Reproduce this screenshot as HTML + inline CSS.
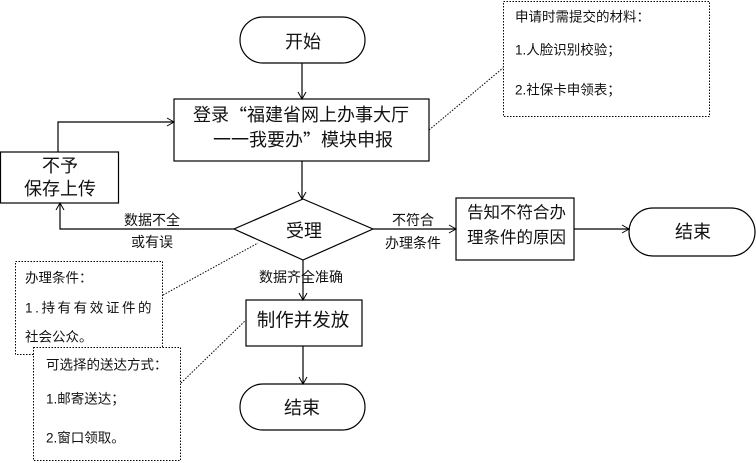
<!DOCTYPE html>
<html>
<head>
<meta charset="utf-8">
<style>
html,body{margin:0;padding:0;background:#fff;}
svg{display:block;}
text{font-family:"Liberation Sans","Noto Sans CJK SC",sans-serif;fill:#111;}
.q{font-family:"Noto Sans CJK SC","Liberation Sans",sans-serif;}
</style>
</head>
<body>
<svg width="756" height="463" viewBox="0 0 756 463" xmlns="http://www.w3.org/2000/svg">
<defs>
<marker id="a" markerWidth="10" markerHeight="10" refX="8" refY="5" orient="auto" markerUnits="userSpaceOnUse">
<path d="M1,1 L8,5 L1,9" fill="none" stroke="#000" stroke-width="1"/>
</marker>
</defs>
<g fill="none" stroke="#000" stroke-width="1.2">
<rect x="240" y="17" width="125" height="46" rx="23" ry="23" fill="#fff"/>
<rect x="174" y="99" width="255" height="62" fill="#fff"/>
<rect x="0.5" y="152" width="118" height="51" fill="#fff"/>
<polygon points="303,199 373,229 303,260 234,229" fill="#fff"/>
<rect x="456" y="198" width="118" height="62" fill="#fff"/>
<rect x="629" y="208" width="126" height="48" rx="24" ry="24" fill="#fff"/>
<rect x="246" y="300" width="116" height="46" fill="#fff"/>
<rect x="240" y="384" width="125" height="46" rx="23" ry="23" fill="#fff"/>

<line x1="302" y1="63" x2="302" y2="99" marker-end="url(#a)"/>
<line x1="302" y1="161" x2="302" y2="199" marker-end="url(#a)"/>
<polyline points="234,229 60,229 60,203" marker-end="url(#a)"/>
<polyline points="58,152 58,122 174,122" marker-end="url(#a)"/>
<line x1="373" y1="229" x2="456" y2="229" marker-end="url(#a)"/>
<line x1="574" y1="229" x2="629" y2="229" marker-end="url(#a)"/>
<line x1="303" y1="260" x2="303" y2="300" marker-end="url(#a)"/>
<line x1="303" y1="346" x2="303" y2="384" marker-end="url(#a)"/>
</g>

<g fill="none" stroke="#000" stroke-width="1" stroke-dasharray="1.5,1.5">
<line x1="429" y1="130" x2="503" y2="68"/>
<line x1="163" y1="295" x2="258" y2="243"/>
<line x1="181" y1="383" x2="246" y2="320"/>
<rect x="503.5" y="1.5" width="206" height="115" fill="#fff"/>
<rect x="15.5" y="261.5" width="147" height="93" fill="#fff"/>
<rect x="33.5" y="347.5" width="147" height="113" fill="#fff"/>
</g>

<g dominant-baseline="central" text-anchor="middle" font-size="18">
<text x="303" y="42">开始</text>
<text x="301" y="115">登录<tspan class="q">“</tspan>福建省网上办事大厅</text>
<text x="303" y="140">一一我要办<tspan class="q">”</tspan>模块申报</text>
<text x="60" y="166">不予</text>
<text x="60" y="189">保存上传</text>
<text x="304" y="231">受理</text>
<text x="693" y="232">结束</text>
<text x="303" y="320" font-size="18.5">制作并发放</text>
<text x="302" y="408">结束</text>
</g>

<g dominant-baseline="central" font-size="16.5">
<text x="467" y="213">告知不符合办</text>
<text x="467" y="238">理条件的原因</text>
</g>

<g dominant-baseline="central" text-anchor="middle" font-size="14">
<text x="152" y="220">数据不全</text>
<text x="152" y="242">或有误</text>
<text x="413" y="220">不符合</text>
<text x="413" y="243">办理条件</text>
<text x="301" y="277">数据齐全准确</text>
</g>

<g dominant-baseline="central" font-size="13.5">
<text x="515" y="17">申请时需提交的材料：</text>
<text x="515" y="50">1.人脸识别校验；</text>
<text x="515" y="90">2.社保卡申领表；</text>
<text x="25" y="278">办理条件：</text>
<text x="25" y="308" letter-spacing="2.6">1.持有有效证件的</text>
<text x="25" y="337">社会公众。</text>
<text x="46" y="365">可选择的送达方式：</text>
<text x="46" y="399">1.邮寄送达；</text>
<text x="46" y="438">2.窗口领取。</text>
</g>
</svg>
</body>
</html>
